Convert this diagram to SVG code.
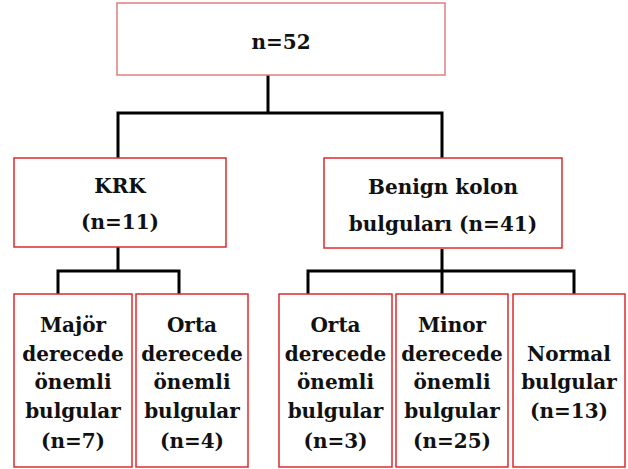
<svg xmlns="http://www.w3.org/2000/svg" width="628" height="469" viewBox="0 0 628 469">
<style>
.box{fill:#fff;stroke:#e02a2e;stroke-width:1.5}
.top{stroke:#e07f80}
.t{font-family:"DejaVu Serif","Liberation Serif",serif;font-weight:bold;font-size:20px;fill:#111;text-anchor:middle}
.c{fill:none;stroke:#000;stroke-width:3}
</style>
<rect width="628" height="469" fill="#fff"/>
<g id="connectors">
<path class="c" d="M268 75V113M118 158V113H442V158"/>
<path class="c" d="M118 247V271M58 294V271H179V294"/>
<path class="c" d="M442 249V271M308 294V271H574V294M442 271V294"/>
</g>
<g id="n52"><rect class="box top" x="117" y="3" width="328" height="72"/><text class="t" x="281" y="49">n=52</text></g>
<g id="krk"><rect class="box" x="14" y="158" width="212" height="89"/><text class="t" x="120" y="193">KRK</text><text class="t" x="120" y="229">(n=11)</text></g>
<g id="benign"><rect class="box" x="324" y="158" width="238" height="90"/><text class="t" x="443" y="194">Benign kolon</text><text class="t" x="443" y="231">bulguları (n=41)</text></g>
<g id="major"><rect class="box" x="14" y="294" width="118" height="173"/><text class="t" x="73" y="332">Majör</text><text class="t" x="73" y="361">derecede</text><text class="t" x="73" y="389">önemli</text><text class="t" x="73" y="418">bulgular</text><text class="t" x="73" y="448">(n=7)</text></g>
<g id="orta1"><rect class="box" x="136" y="294" width="112" height="173"/><text class="t" x="192" y="332">Orta</text><text class="t" x="192" y="361">derecede</text><text class="t" x="192" y="389">önemli</text><text class="t" x="192" y="418">bulgular</text><text class="t" x="192" y="448">(n=4)</text></g>
<g id="orta2"><rect class="box" x="279" y="294" width="113" height="173"/><text class="t" x="335.5" y="332">Orta</text><text class="t" x="335.5" y="361">derecede</text><text class="t" x="335.5" y="389">önemli</text><text class="t" x="335.5" y="418">bulgular</text><text class="t" x="335.5" y="448">(n=3)</text></g>
<g id="minor"><rect class="box" x="396" y="294" width="112" height="173"/><text class="t" x="452" y="332">Minor</text><text class="t" x="452" y="361">derecede</text><text class="t" x="452" y="389">önemli</text><text class="t" x="452" y="418">bulgular</text><text class="t" x="452" y="448">(n=25)</text></g>
<g id="normal"><rect class="box" x="513" y="294" width="112" height="173"/><text class="t" x="569" y="361">Normal</text><text class="t" x="569" y="389">bulgular</text><text class="t" x="569" y="418">(n=13)</text></g>
</svg>
